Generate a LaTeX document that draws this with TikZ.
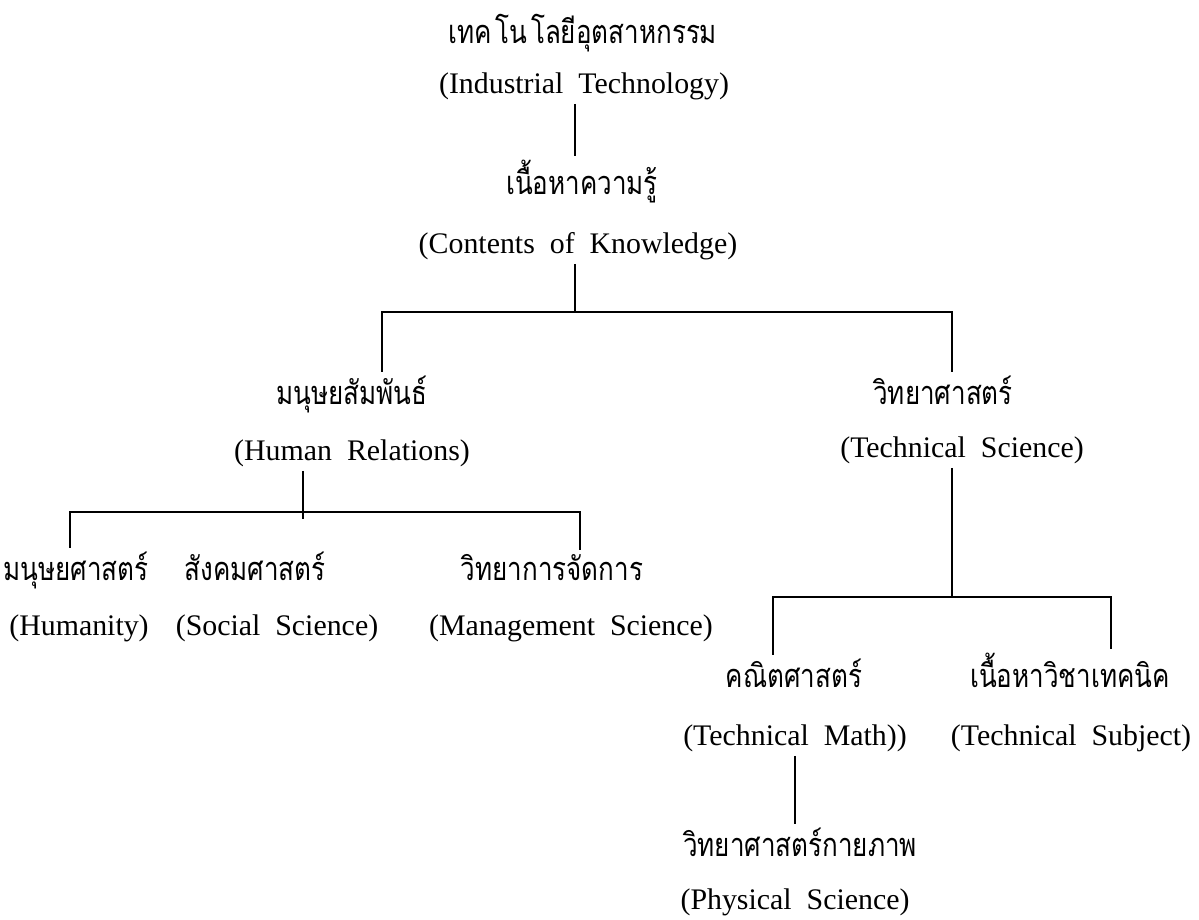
\documentclass[tikz,border=0pt]{standalone}
\usepackage{fontspec}
\setmainfont{Liberation Serif}
\newfontfamily\thaifont[Script=Thai, FakeStretch=0.8]{Loma}
\usetikzlibrary{positioning}

\begin{document}
\begin{tikzpicture}[x=0.02cm, y=-0.02cm, line width=1.1pt,
        thai/.style = {font=\thaifont\fontsize{18.5}{20}\selectfont, inner sep=0pt, outer sep=2pt, anchor=base},
        eng/.style = {font=\fontsize{17}{20}\selectfont, inner sep=0pt, outer sep=2.5pt, anchor=base},
        ]
        \useasboundingbox (0,0) rectangle (1199,919);
        % top
        \node [thai] (indT) at (583,44) {เทค\hspace{2pt}โน\hspace{2pt}โลยีอุตสาหกรรม};
        \node [eng] (indE) at (584,93) {(Industrial\ \ Technology)};
        \node [thai] (knowT) at (582,194) {เนื้อหาความรู้};
        \node [eng] (knowE) at (578,253) {(Contents\ \ of\ \ Knowledge)};
        % second level
        \node [thai] (hrT) at (352,404) {มนุษยสัมพันธ์};
        \node [eng] (hrE) at (352,460) {(Human\ \ Relations)};
        \node [thai] (tsT) at (943,404) {วิทยาศาสตร์};
        \node [eng] (tsE) at (962,457) {(Technical\ \ Science)};
        % human relations branch
        \node [thai] (humT) at (76,580) {มนุษยศาสตร์};
        \node [eng] (humE) at (79,635) {(Humanity)};
        \node [thai] (socT) at (255,580) {สังคมศาสตร์};
        \node [eng] (socE) at (277,635) {(Social\ \ Science)};
        \node [thai] (mgtT) at (552,580) {วิทยาการจัดการ};
        \node [eng] (mgtE) at (571,635) {(Management\ \ Science)};
        % technical science branch
        \node [thai] (mathT) at (794,687) {คณิตศาสตร์};
        \node [eng] (mathE) at (795,745) {(Technical\ \ Math))};
        \node [thai] (subjT) at (1070,687) {เนื้อหาวิชาเทคนิค};
        \node [eng] (subjE) at (1071,745) {(Technical\ \ Subject)};
        \node [thai] (physT) at (800,856) {วิทยาศาสตร์กายภาพ};
        \node [eng] (physE) at (795,909) {(Physical\ \ Science)};

        \coordinate (kbus) at (575,312);
        \coordinate (hrbar) at (382,312);
        \coordinate (tsbar) at (952,312);
        \coordinate (hl) at (70,512);
        \coordinate (hm) at (303,512);
        \coordinate (hr) at (580,512);
        \coordinate (tl) at (773,597);
        \coordinate (tm) at (952,597);
        \coordinate (tr) at (1111,597);

        \draw (indE.south -| kbus) -- (knowT.north -| kbus);
        \draw (knowE.south -| kbus) -- (kbus);
        \draw (hrT.north -| hrbar) -- (hrbar) -- (tsbar) -- (tsT.north -| tsbar);
        \draw (hrE.south -| hm) -- ([yshift=-4pt]hm);
        \draw (humT.north -| hl) -- (hl) -- (hr) -- (mgtT.north -| hr);
        \draw (tsE.south -| tm) -- (tm);
        \draw (mathT.north -| tl) -- (tl) -- (tr) -- (subjT.north -| tr);
        \draw (mathE.south) -- (mathE.south |- physT.north);
\end{tikzpicture}
\end{document}
